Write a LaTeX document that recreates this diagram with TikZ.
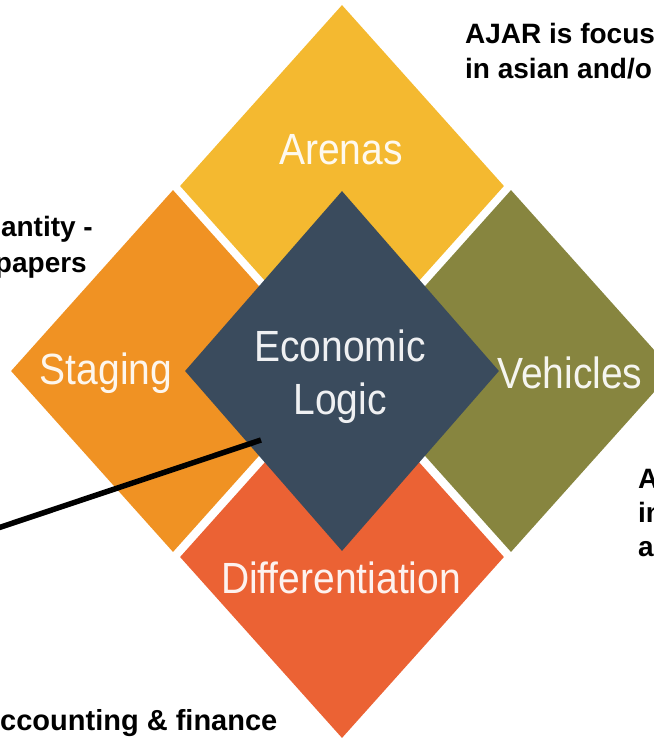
\documentclass[tikz,border=0pt]{standalone}
\usepackage{fontspec}
\setmainfont{Liberation Sans}
\usetikzlibrary{shapes.geometric}
\definecolor{arenacol}{HTML}{F4B930}
\definecolor{stagecol}{HTML}{F09223}
\definecolor{vehiccol}{HTML}{87853F}
\definecolor{diffcol}{HTML}{EB6234}
\definecolor{econcol}{HTML}{3A4B5D}
\tikzset{
  tile/.style={diamond, draw=none, inner sep=0pt, minimum width=324pt, minimum height=362pt},
  core/.style={diamond, draw=none, inner sep=0pt, minimum width=314pt, minimum height=360pt},
  tiletext/.style={text=white, text opacity=0.92, inner sep=0pt, font=\fontsize{39}{47}\selectfont},
  note/.style={text=black, inner sep=0pt, font=\fontsize{28}{34}\selectfont\bfseries},
  pointer/.style={line width=5.5pt, black}
}
\newcommand{\vst}[1]{\scalebox{1}[1.12]{#1}}
\begin{document}
\begin{tikzpicture}[x=1pt,y=-1pt]
\useasboundingbox (0,0) rectangle (654,740);
\clip (0,0) rectangle (654,740);
% outer tiles
\node[tile, fill=arenacol] (arenas) at (342,186) {};
\node[tile, fill=stagecol] (staging) at (173,371) {};
\node[tile, fill=vehiccol] (vehicles) at (511,371) {};
\node[tile, fill=diffcol] (diff) at (342,557) {};
% central tile
\node[core, fill=econcol] (econ) at (342,371) {};
% tile labels
\node[tiletext] (tArenas) at (341,150) {\vst{Arenas}};
\node[tiletext] (tStaging) at (106,373) {\vst{Staging}};
\node[tiletext, anchor=west] (tVehicles) at (497,373) {\vst{Vehicles}};
\node[tiletext] (tEcon1) at (340,346) {\vst{Economic}};
\node[tiletext] (tEcon2) at (340,403) {\vst{Logic}};
\node[tiletext] (tDiff) at (341,578) {\vst{Differentiation}};
% notes
\node[note, anchor=base west] (nAjar1) at (465,43) {AJAR is focus};
\node[note, anchor=base west] (nAjar2) at (465,78) {in asian and/o};
\node[note, anchor=base east] (nLeft1) at (93,236) {antity -};
\node[note, anchor=base east] (nLeft2) at (87,272) {papers};
\node[note, anchor=base west] (nRight1) at (638,488) {A};
\node[note, anchor=base west] (nRight2) at (638,522) {in};
\node[note, anchor=base west] (nRight3) at (638,556) {a};
\node[note, anchor=base west, font=\fontsize{29}{34}\selectfont\bfseries] (nBottom) at (0,730) {ccounting \& finance};
% pointer line
\coordinate (pA) at (261,440);
\coordinate (pB) at (-8,530);
\draw[pointer] (pA) -- (pB);
\end{tikzpicture}
\end{document}
